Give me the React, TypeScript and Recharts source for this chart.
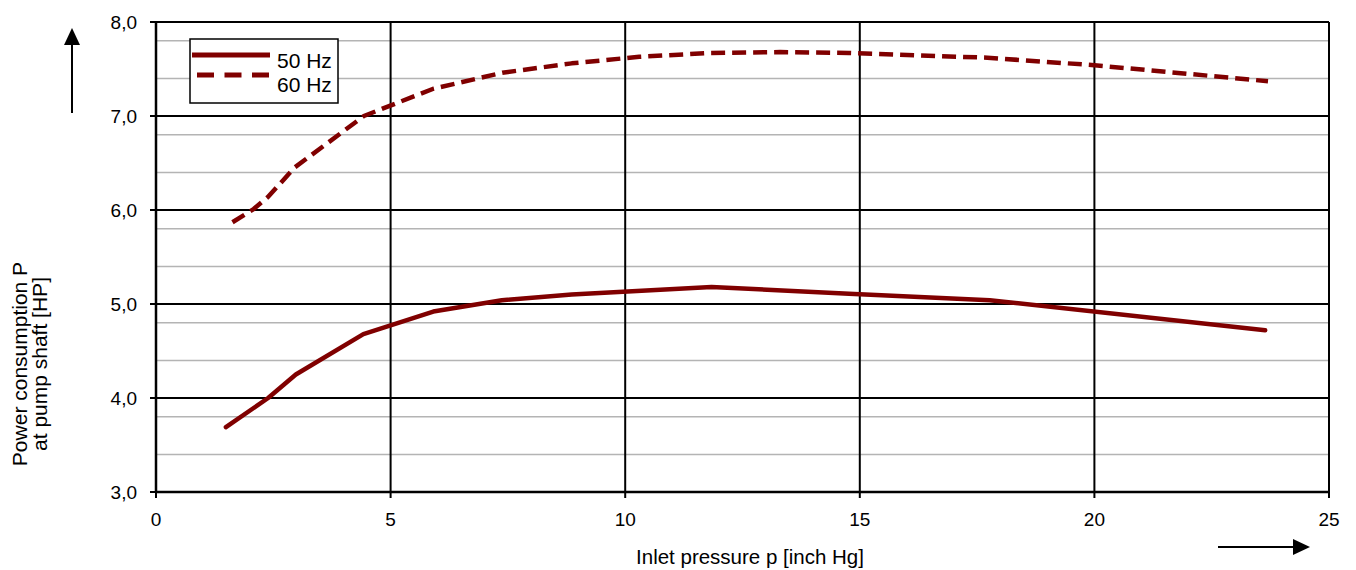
import React from 'react'
import { CartesianGrid, Line, LineChart, XAxis, YAxis } from 'recharts'

const pressure50 = [1.49, 2.39, 2.98, 4.42, 5.91, 7.37, 8.86, 11.84, 14.77, 17.77, 23.64]
const power50 = [3.69, 4.0, 4.25, 4.68, 4.92, 5.04, 5.1, 5.18, 5.11, 5.04, 4.72]

const pressure60 = [1.63, 2.08, 2.39, 2.95, 4.43, 5.91, 7.38, 8.86, 10.3, 11.81, 13.3, 14.77, 17.72, 20.0, 23.7]
const power60 = [5.87, 6.01, 6.14, 6.45, 7.0, 7.29, 7.46, 7.56, 7.63, 7.67, 7.68, 7.67, 7.62, 7.54, 7.37]

const xTicks = [0, 5, 10, 15, 20, 25]
const yTicks = [3, 4, 5, 6, 7, 8]
const yMinor = [3.2, 3.4, 3.6, 3.8, 4.2, 4.4, 4.6, 4.8, 5.2, 5.4, 5.6, 5.8, 6.2, 6.4, 6.6, 6.8, 7.2, 7.4, 7.6, 7.8]

const seriesNames = ['50 Hz', '60 Hz']

const data50 = pressure50.map((p, i) => ({ p, P: power50[i] }))
const data60 = pressure60.map((p, i) => ({ p, P: power60[i] }))

const RED = '#800000'
const FONT = '"Liberation Sans", Arial, sans-serif'

const fmt = (v: number) => v.toFixed(1).replace('.', ',')

// legend drawn as a plain overlay so it doesn't eat into the plot area
const LegendBox = () => (
  <svg width={150} height={66} style={{ position: 'absolute', left: 189, top: 38 }}>
    <rect x={1} y={1} width={148} height={64} fill="#fff" stroke="#000" strokeWidth={1.5} />
    <line x1={3} y1={17} x2={81} y2={17} stroke={RED} strokeWidth={5} />
    <line x1={8} y1={37} x2={81} y2={37} stroke={RED} strokeWidth={5} strokeDasharray="17 10.5" />
    <text x={88} y={30} fontSize={21} fontFamily={FONT} fill="#000">{seriesNames[0]}</text>
    <text x={88} y={54} fontSize={21} fontFamily={FONT} fill="#000">{seriesNames[1]}</text>
  </svg>
)

const App = () => {
  return (
    <div style={{ position: 'absolute', left: 0, top: 0, width: 1356, height: 570, background: '#fff', fontFamily: FONT }}>
      <LineChart width={1356} height={570} margin={{ top: 22, right: 27, left: 100, bottom: 48 }}>
        <CartesianGrid horizontalValues={yMinor} vertical={false} stroke="#b4b4b4" strokeWidth={1.5} />
        <CartesianGrid horizontalValues={yTicks} verticalValues={xTicks} stroke="#000" strokeWidth={2} />
        <XAxis
          type="number"
          dataKey="p"
          domain={[0, 25]}
          ticks={xTicks}
          allowDataOverflow
          height={30}
          tickSize={6}
          tickMargin={15}
          axisLine={{ stroke: '#000', strokeWidth: 2.5 }}
          tickLine={{ stroke: '#000', strokeWidth: 2 }}
          tick={{ fill: '#000', fontSize: 19, fontFamily: FONT }}
        />
        <YAxis
          type="number"
          dataKey="P"
          domain={[3, 8]}
          ticks={yTicks}
          allowDataOverflow
          width={56}
          tickSize={6}
          tickMargin={13}
          tickFormatter={fmt}
          axisLine={{ stroke: '#000', strokeWidth: 2.5 }}
          tickLine={{ stroke: '#000', strokeWidth: 2 }}
          tick={{ fill: '#000', fontSize: 19, fontFamily: FONT }}
        />
        <Line data={data50} dataKey="P" name={seriesNames[0]} stroke={RED} strokeWidth={4.5} dot={false} isAnimationActive={false} strokeLinejoin="round" strokeLinecap="round" />
        <Line data={data60} dataKey="P" name={seriesNames[1]} stroke={RED} strokeWidth={4.5} strokeDasharray="14 7" dot={false} isAnimationActive={false} strokeLinejoin="round" />
      </LineChart>
      <LegendBox />
      <svg width={1356} height={570} style={{ position: 'absolute', left: 0, top: 0, pointerEvents: 'none' }}>
        <line x1={72} y1={113} x2={72} y2={44} stroke="#000" strokeWidth={2} />
        <path d="M72,28 L64,45 L80,45 Z" fill="#000" />
        <line x1={1218} y1={547} x2={1294} y2={547} stroke="#000" strokeWidth={2} />
        <path d="M1310,547 L1293,539 L1293,555 Z" fill="#000" />
        <g transform="translate(27,364) rotate(-90)">
          <text x={0} y={0} textAnchor="middle" fontSize={21} fontFamily={FONT} fill="#000">Power consumption P</text>
          <text x={0} y={20} textAnchor="middle" fontSize={21} fontFamily={FONT} fill="#000">at pump shaft [HP]</text>
        </g>
        <text x={750} y={564} textAnchor="middle" fontSize={20.5} fontFamily={FONT} fill="#000">Inlet pressure p [inch Hg]</text>
      </svg>
    </div>
  )
}

export default App
